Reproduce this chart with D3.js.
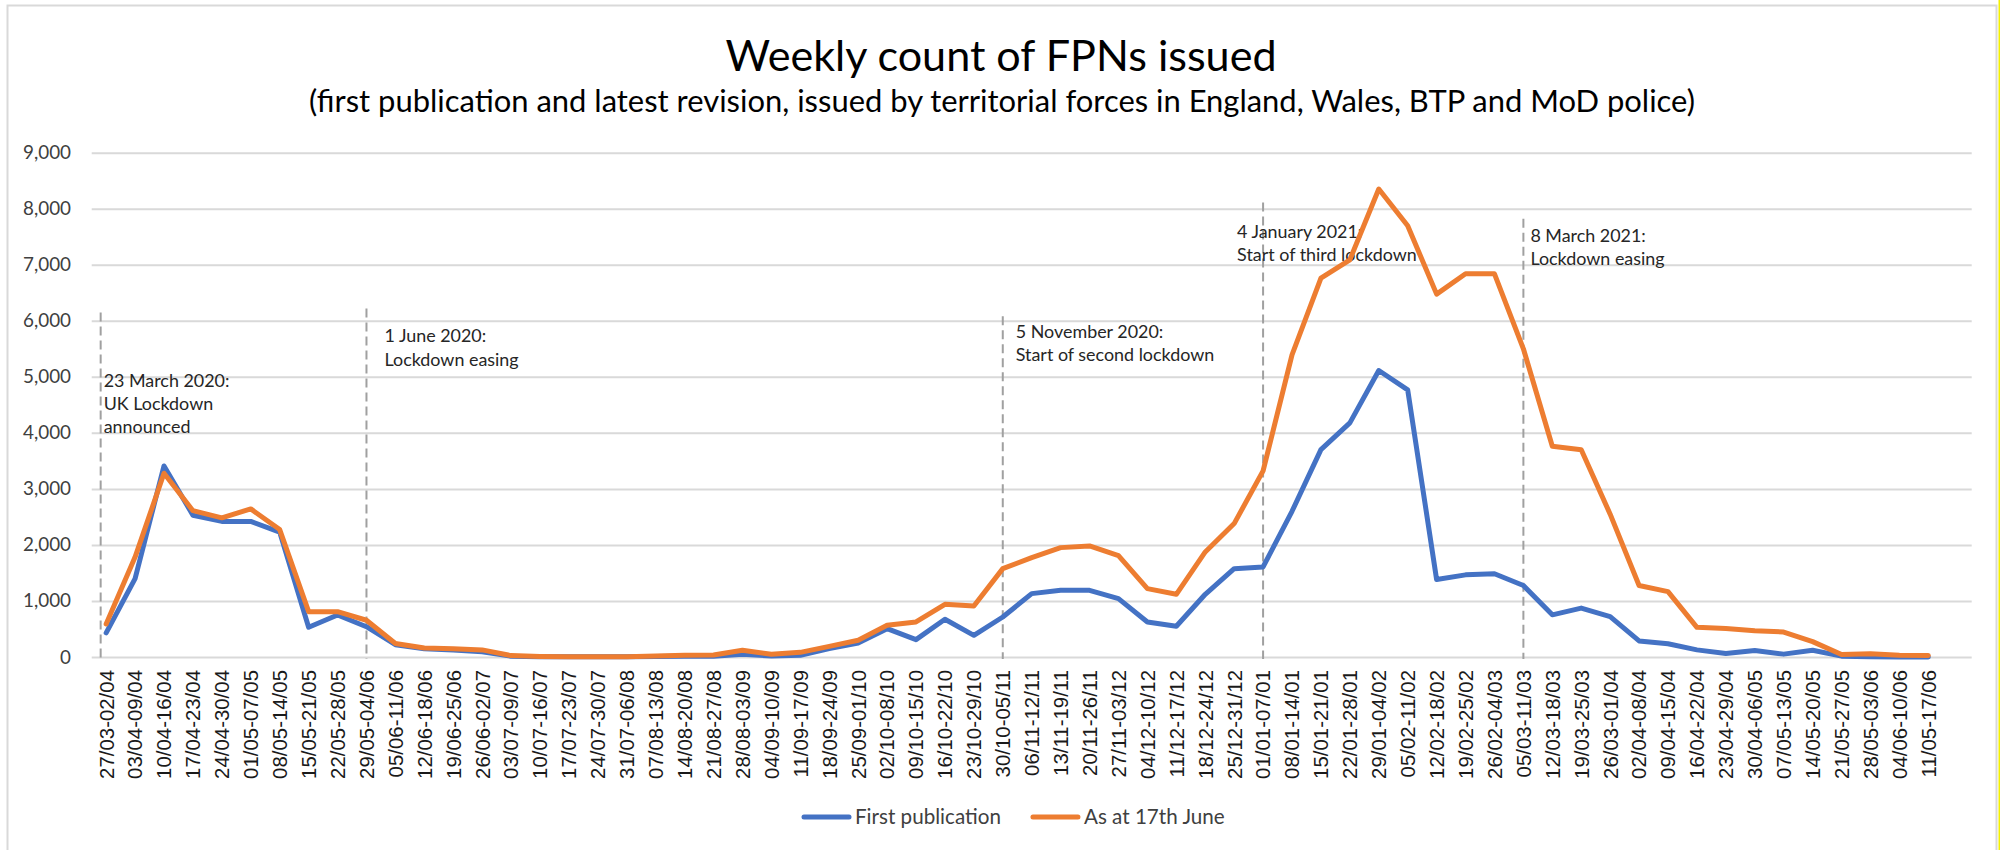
<!DOCTYPE html>
<html>
<head>
<meta charset="utf-8">
<script src="https://cdn.jsdelivr.net/npm/d3@7"></script>
<style>
  body { margin: 0; background: #fff; }
  svg { display: block; }
</style>
</head>
<body>
<div id="chart"></div>
<script>
// week bands as printed on the category axis
const weeks = [
  "27/03-02/04","03/04-09/04","10/04-16/04","17/04-23/04","24/04-30/04","01/05-07/05","08/05-14/05","15/05-21/05","22/05-28/05","29/05-04/06",
  "05/06-11/06","12/06-18/06","19/06-25/06","26/06-02/07","03/07-09/07","10/07-16/07","17/07-23/07","24/07-30/07","31/07-06/08","07/08-13/08",
  "14/08-20/08","21/08-27/08","28/08-03/09","04/09-10/09","11/09-17/09","18/09-24/09","25/09-01/10","02/10-08/10","09/10-15/10","16/10-22/10",
  "23/10-29/10","30/10-05/11","06/11-12/11","13/11-19/11","20/11-26/11","27/11-03/12","04/12-10/12","11/12-17/12","18/12-24/12","25/12-31/12",
  "01/01-07/01","08/01-14/01","15/01-21/01","22/01-28/01","29/01-04/02","05/02-11/02","12/02-18/02","19/02-25/02","26/02-04/03","05/03-11/03",
  "12/03-18/03","19/03-25/03","26/03-01/04","02/04-08/04","09/04-15/04","16/04-22/04","23/04-29/04","30/04-06/05","07/05-13/05","14/05-20/05",
  "21/05-27/05","28/05-03/06","04/06-10/06","11/05-17/06"
];

const firstPublication = [
  430, 1400, 3410, 2530, 2420, 2420, 2230, 530, 750, 540,
  220, 145, 125, 95, 15, 5, 5, 5, 5, 10,
  15, 15, 48, 18, 30, 149, 250, 506, 310, 673,
  387, 714, 1131, 1190, 1190, 1042, 625, 548, 1119, 1577,
  1607, 2600, 3702, 4179, 5113, 4768, 1383, 1466, 1485, 1275,
  752, 873, 720, 287, 236, 127, 64, 115, 51, 120,
  15, 6, 2, 0
];

const asAt17June = [
  590, 1783, 3280, 2611, 2484, 2643, 2274, 809, 809, 656,
  242, 159, 146, 127, 25, 10, 5, 5, 5, 20,
  30, 35, 119, 48, 83, 190, 298, 565, 625, 940,
  911, 1577, 1774, 1952, 1982, 1810, 1220, 1119, 1875, 2381,
  3321, 5393, 6762, 7089, 8351, 7696, 6476, 6839, 6839, 5500,
  3760, 3697, 2549, 1275, 1166, 529, 510, 470, 446, 274,
  45, 60, 30, 25
];

const yTicks = [0, 1000, 2000, 3000, 4000, 5000, 6000, 7000, 8000, 9000];

const seriesNames = ["First publication", "As at 17th June"];
const seriesColors = ["#4472C4", "#ED7D31"];

// policy milestones marked with dashed lines
const markerWeeks = ["27/03-02/04", "29/05-04/06", "30/10-05/11", "01/01-07/01", "05/03-11/03"];
const markerNotes = [
  ["23 March 2020:", "UK Lockdown", "announced"],
  ["1 June 2020:", "Lockdown easing"],
  ["5 November 2020:", "Start of second lockdown"],
  ["4 January 2021:", "Start of third lockdown"],
  ["8 March 2021:", "Lockdown easing"]
];

// ---- layout ----
const W = 2000, H = 850;
const plot = { left: 91.7, right: 1971.7, top: 152.7, bottom: 657 };
// shift = px nudge of the dashed line, top = level it reaches, dx/noteAt = note offset
const markerLayout = [
  { shift: -5.5, top: 6150, dx: 3,   noteAt: 4934 },
  { shift: 0,    top: 6220, dx: 18,  noteAt: 5725 },
  { shift: 0,    top: 6080, dx: 13,  noteAt: 5811 },
  { shift: 0,    top: 8110, dx: -26, noteAt: 7589 },
  { shift: 0,    top: 7820, dx: 7,   noteAt: 7518 }
];

const bodyFont = "Lato";
const axisFont = "'Liberation Sans'";

const ctx = document.createElement("canvas").getContext("2d");
function fitSize(text, family, width) {
  ctx.font = "100px " + family;
  return 100 * width / ctx.measureText(text).width;
}

const titleSize = fitSize("Weekly count of FPNs issued", bodyFont, 553);
const subSize = fitSize("(first publication and latest revision, issued by territorial forces in England, Wales, BTP and MoD police)", bodyFont, 1388);
const noteSize = fitSize("Start of second lockdown", bodyFont, 199);
const yTickSize = fitSize("9,000", bodyFont, 48);
const legendSize = fitSize("First publication", bodyFont, 146);
const xTickSize = fitSize("27/03-02/04", axisFont, 109);

const svg = d3.select("#chart").append("svg")
  .attr("width", W)
  .attr("height", H);

svg.append("rect")
  .attr("width", W).attr("height", H)
  .attr("fill", "#fff");

// chart frame
svg.append("rect")
  .attr("x", 7.5).attr("y", 5.5)
  .attr("width", 1989).attr("height", H)
  .attr("fill", "none")
  .attr("stroke", "#d9d9d9")
  .attr("stroke-width", 2);
svg.append("rect")
  .attr("x", 1998.5).attr("y", 0)
  .attr("width", 1.5).attr("height", H)
  .attr("fill", "#f4f000");

// Excel left one empty category slot at the end of the axis
const x = d3.scaleBand()
  .domain(weeks.concat([""]))
  .range([plot.left, plot.right]);
const cx = d => x(d) + x.bandwidth() / 2;

const y = d3.scaleLinear()
  .domain([0, 9000])
  .range([plot.bottom, plot.top]);

// titles
svg.append("text")
  .attr("x", W / 2 + 1)
  .attr("y", 71)
  .attr("text-anchor", "middle")
  .style("font-family", bodyFont)
  .style("font-size", titleSize + "px")
  .attr("fill", "#000")
  .text("Weekly count of FPNs issued");

svg.append("text")
  .attr("x", W / 2 + 2)
  .attr("y", 112)
  .attr("text-anchor", "middle")
  .style("font-family", bodyFont)
  .style("font-size", subSize + "px")
  .attr("fill", "#000")
  .text("(first publication and latest revision, issued by territorial forces in England, Wales, BTP and MoD police)");

// y gridlines + labels
const yAxis = d3.axisLeft(y)
  .tickValues(yTicks)
  .tickSizeInner(-(plot.right - plot.left))
  .tickSizeOuter(0)
  .tickPadding(20.7)
  .tickFormat(d3.format(","));

const gy = svg.append("g")
  .attr("transform", "translate(" + plot.left + ",0)")
  .call(yAxis);
gy.select(".domain").remove();
gy.selectAll(".tick line")
  .attr("stroke", "#d9d9d9")
  .attr("stroke-width", 2);
gy.selectAll(".tick text")
  .style("font-family", bodyFont)
  .style("font-size", yTickSize + "px")
  .attr("fill", "#404040");

// category axis
const xAxis = d3.axisBottom(x)
  .tickSize(0)
  .tickFormat(d => d);

const gx = svg.append("g")
  .attr("transform", "translate(0," + plot.bottom + ")")
  .call(xAxis);
gx.select(".domain").remove();
gx.selectAll(".tick text")
  .attr("transform", "rotate(-90)")
  .attr("x", -13)
  .attr("y", 0)
  .attr("dy", "0.36em")
  .attr("text-anchor", "end")
  .style("font-family", axisFont)
  .style("font-size", xTickSize + "px")
  .attr("fill", "#1a1a1a");

// dashed milestone lines and notes
markerWeeks.forEach((wk, i) => {
  const lay = markerLayout[i];
  const mx = cx(wk) + lay.shift;
  svg.append("line")
    .attr("x1", mx).attr("x2", mx)
    .attr("y1", y(lay.top)).attr("y2", plot.bottom + 2)
    .attr("stroke", "#a0a0a0")
    .attr("stroke-width", 2)
    .attr("stroke-dasharray", "9,5");

  const note = svg.append("text")
    .style("font-family", bodyFont)
    .style("font-size", noteSize + "px")
    .attr("fill", "#262626");
  markerNotes[i].forEach((line, j) => {
    note.append("tspan")
      .attr("x", mx + lay.dx)
      .attr("y", y(lay.noteAt) + j * 23.3)
      .attr("dy", "0.35em")
      .text(line);
  });
});

// series lines
const line = d3.line()
  .x((d, i) => cx(weeks[i]))
  .y(d => y(d));

[firstPublication, asAt17June].forEach((vals, k) => {
  svg.append("path")
    .datum(vals)
    .attr("d", line)
    .attr("fill", "none")
    .attr("stroke", seriesColors[k])
    .attr("stroke-width", 5)
    .attr("stroke-linejoin", "round")
    .attr("stroke-linecap", "round");
});

// legend
const legend = svg.append("g").attr("transform", "translate(0,817)");
let lx = 802;
seriesNames.forEach((name, k) => {
  legend.append("line")
    .attr("x1", lx + 2).attr("x2", lx + 47)
    .attr("y1", 0).attr("y2", 0)
    .attr("stroke", seriesColors[k])
    .attr("stroke-width", 5)
    .attr("stroke-linecap", "round");
  const t = legend.append("text")
    .attr("x", lx + 53)
    .attr("y", 0)
    .attr("dy", "0.35em")
    .style("font-family", bodyFont)
    .style("font-size", legendSize + "px")
    .attr("fill", "#404040")
    .text(name);
  lx += 53 + t.node().getComputedTextLength() + 30;
});
</script>
</body>
</html>
